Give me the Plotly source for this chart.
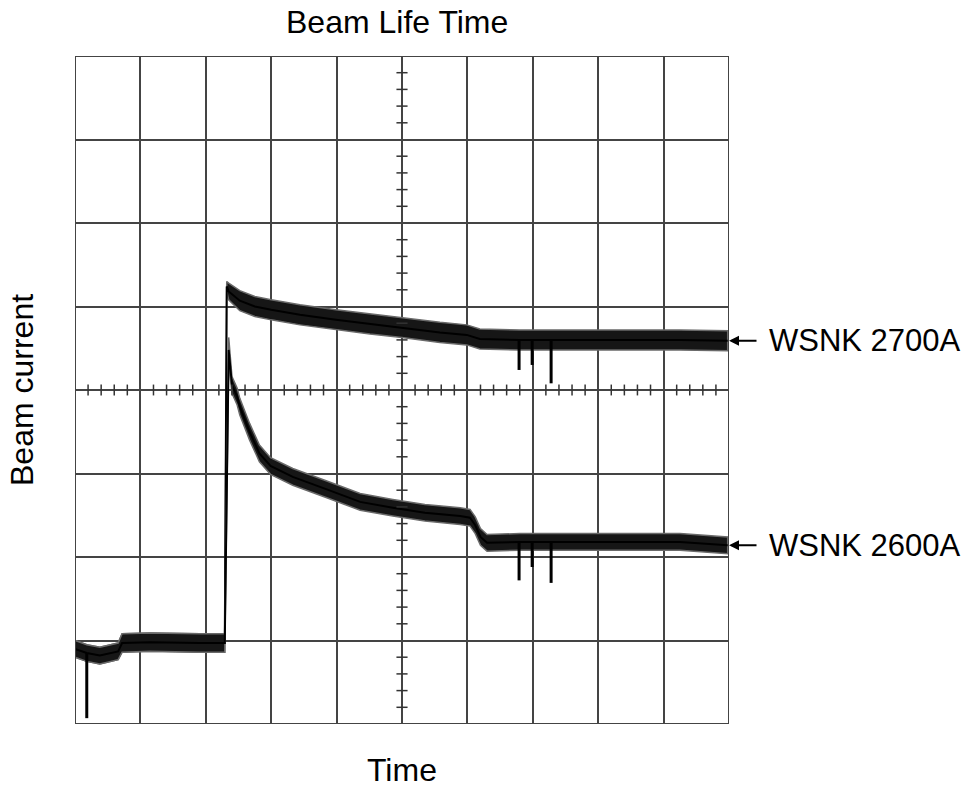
import plotly.graph_objects as go

# oscilloscope screen: 10 x 8 divisions, values in divisions
x_pts = [0.00, 0.18, 0.38, 0.66, 0.72, 1.15, 1.91, 2.29,
         2.32, 2.35, 2.52, 2.75, 3.00, 3.44, 3.99, 4.51, 5.00,
         5.58, 5.99, 6.10, 6.19, 6.80, 8.03, 9.25, 9.98]

# shared pre-injection baseline then upper trace (WSNK 2700A)
upper_mid = [0.90, 0.85, 0.82, 0.87, 0.97, 0.98, 0.97, 0.97,
             5.24, 5.18, 5.07, 5.00, 4.96, 4.90, 4.84, 4.79, 4.75,
             4.69, 4.66, 4.63, 4.61, 4.60, 4.60, 4.60, 4.59]
upper_spread = [0.10, 0.10, 0.10, 0.10, 0.11, 0.11, 0.11, 0.11,
                0.06, 0.10, 0.12, 0.12, 0.12, 0.12, 0.12, 0.12, 0.12,
                0.12, 0.12, 0.12, 0.12, 0.12, 0.12, 0.12, 0.12]

x_low = [0.00, 0.18, 0.38, 0.66, 0.72, 1.15, 1.91, 2.29,
         2.35, 2.40, 2.48, 2.52, 2.67, 2.82, 2.99, 3.33, 3.85, 4.36, 4.86,
         5.35, 5.89, 6.04, 6.12, 6.20, 6.30, 6.80, 8.03, 9.25, 9.98]
lower_mid = [0.90, 0.85, 0.82, 0.87, 0.97, 0.98, 0.97, 0.97,
             4.48, 4.06, 3.92, 3.80, 3.50, 3.24, 3.09, 2.96, 2.81, 2.66, 2.59,
             2.53, 2.49, 2.47, 2.38, 2.24, 2.17, 2.18, 2.18, 2.18, 2.14]
lower_spread = [0.10, 0.10, 0.10, 0.10, 0.11, 0.11, 0.11, 0.11,
                0.15, 0.10, 0.10, 0.10, 0.10, 0.10, 0.10, 0.10, 0.10, 0.10, 0.10,
                0.10, 0.10, 0.10, 0.10, 0.10, 0.10, 0.10, 0.10, 0.10, 0.10]

# glitch spikes (x, lowest value)
spike_x = [6.79, 6.99, 7.28]
upper_spike = [4.24, 4.30, 4.08]
lower_spike = [1.72, 1.88, 1.69]
dip_x = [0.18]
dip_y = [0.07]

labels = ["WSNK 2700A", "WSNK 2600A"]
label_y = [4.59, 2.14]

FONT = "Liberation Sans, Arial, sans-serif"

fig = go.Figure()


def add_band(xs, mid, spread):
    hi = [m + s for m, s in zip(mid, spread)]
    lo = [m - s for m, s in zip(mid, spread)]
    fig.add_trace(go.Scatter(x=xs + xs[::-1], y=hi + lo[::-1], fill="toself",
                             fillcolor="#161616",
                             line=dict(color="#6a6a6a", width=1.5),
                             mode="lines", showlegend=False, hoverinfo="skip"))
    fig.add_trace(go.Scatter(x=xs, y=mid, mode="lines",
                             line=dict(color="black", width=2),
                             showlegend=False))


def add_spikes(xs, tips, base):
    sx, sy = [], []
    for x, t, b in zip(xs, tips, base):
        sx += [x, x, None]
        sy += [b, t, None]
    fig.add_trace(go.Scatter(x=sx, y=sy, mode="lines",
                             line=dict(color="black", width=3),
                             showlegend=False, hoverinfo="skip"))


add_band(x_pts, upper_mid, upper_spread)
add_band(x_low, lower_mid, lower_spread)
add_spikes(spike_x, upper_spike, [4.60] * 3)
add_spikes(spike_x, lower_spike, [2.18] * 3)
add_spikes(dip_x, dip_y, [0.85])

# minor ticks on the centre cross
shapes = []
for k in range(1, 50):
    if k % 5 == 0:
        continue
    t = k * 0.2
    shapes.append(dict(type="line", x0=t, x1=t, y0=3.935, y1=4.065,
                       line=dict(color="#333", width=1.5)))
for k in range(1, 40):
    if k % 5 == 0:
        continue
    t = k * 0.2
    shapes.append(dict(type="line", x0=4.915, x1=5.085, y0=t, y1=t,
                       line=dict(color="#333", width=1.5)))
shapes.append(dict(type="rect", x0=0, x1=10, y0=0, y1=8,
                   line=dict(color="#444", width=2)))

W, H = 967, 787
L, R, T, B = 75, 238, 56, 63
PW, PH = W - L - R, H - T - B


def px_to_paper(px, py):
    return (px - L) / PW, 1 - (py - T) / PH


annotations = []
for lab, yv in zip(labels, label_y):
    annotations.append(dict(x=10.0, y=yv, xref="x", yref="y", ax=29, ay=0,
                            text="", showarrow=True, arrowhead=2, arrowsize=1,
                            arrowwidth=2, arrowcolor="black"))
    annotations.append(dict(x=(767 - L) / PW, y=yv / 8, xref="paper", yref="paper",
                            text=lab, showarrow=False, xanchor="left",
                            yanchor="middle",
                            font=dict(size=31, color="black", family=FONT)))

for text, px, py, ang in [("Beam Life Time", 397, 22, 0),
                          ("Time", 402, 770, 0),
                          ("Beam current", 22, 390, -90)]:
    xp, yp = px_to_paper(px, py)
    annotations.append(dict(x=xp, y=yp, xref="paper", yref="paper", text=text,
                            showarrow=False, textangle=ang,
                            xanchor="center", yanchor="middle",
                            font=dict(size=32, color="black", family=FONT)))

fig.update_layout(
    width=W, height=H,
    margin=dict(l=L, r=R, t=T, b=B),
    paper_bgcolor="white", plot_bgcolor="white",
    xaxis=dict(range=[0, 10], dtick=1, showticklabels=False, showgrid=True,
               gridcolor="#444", gridwidth=2, zeroline=False, ticks=""),
    yaxis=dict(range=[0, 8], dtick=1, showticklabels=False, showgrid=True,
               gridcolor="#444", gridwidth=2, zeroline=False, ticks=""),
    shapes=shapes,
    annotations=annotations,
    showlegend=False,
)

fig.write_html("out.html", config={"displayModeBar": False},
               post_script="document.body.style.margin='0';")
